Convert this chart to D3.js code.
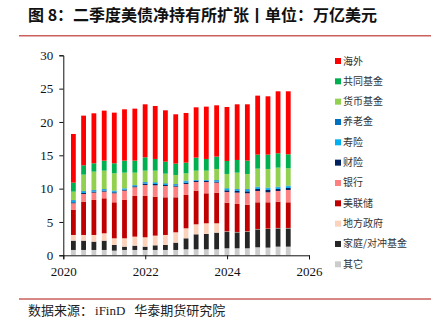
<!DOCTYPE html>
<html>
<head>
<meta charset="utf-8">
<script src="https://cdn.jsdelivr.net/npm/d3@7"></script>
<style>
  body { margin: 0; background: #fff; }
  svg { display: block; }
</style>
</head>
<body>
<script>
// quarters, bottom-to-top series (trillion USD)
const quarters = ["2020Q1","2020Q2","2020Q3","2020Q4","2021Q1","2021Q2","2021Q3","2021Q4",
  "2022Q1","2022Q2","2022Q3","2022Q4","2023Q1","2023Q2","2023Q3","2023Q4",
  "2024Q1","2024Q2","2024Q3","2024Q4","2025Q1","2025Q2"];

const other      = [0.8,0.8,0.8,0.8,0.7,0.8,0.8,0.8,0.8,0.8,0.8,0.9,0.9,0.9,0.9,1.05,1.05,1.05,1.2,1.15,1.3,1.3];
const household  = [1.4,1.4,1.25,1.4,0.85,0.5,0.65,0.5,0.7,0.75,1.1,1.65,2.25,2.3,2.5,2.5,2.4,2.5,2.7,2.8,2.75,2.75];
const localGov   = [0.85,0.85,1.0,1.1,1.0,1.25,1.35,1.4,1.45,1.5,1.55,1.5,1.5,1.6,1.4,0.05,0.05,0.05,0.05,0.05,0.05,0.05];
const fed        = [3.8,5.0,5.25,5.25,5.4,5.75,6.1,6.2,5.85,5.65,5.25,5.0,5.05,4.5,4.6,4.3,4.2,4.0,4.0,3.95,3.95,3.85];
const banks      = [0.95,1.15,1.1,1.0,1.35,1.4,1.3,1.65,1.7,1.7,1.6,1.65,1.3,1.7,1.5,1.6,1.7,1.7,1.7,1.5,1.6,1.85];
const pc         = [0.15,0.15,0.15,0.15,0.15,0.15,0.15,0.2,0.2,0.15,0.15,0.2,0.15,0.15,0.15,0.25,0.25,0.3,0.3,0.35,0.3,0.3];
const life       = [0.25,0.2,0.15,0.15,0.15,0.15,0.15,0.15,0.15,0.15,0.15,0.2,0.1,0.1,0.15,0.2,0.2,0.25,0.25,0.25,0.25,0.25];
const pension    = [0.1,0.1,0.1,0.1,0.1,0.05,0.05,0.1,0.1,0.1,0.1,0.1,0.05,0.05,0.1,0.1,0.1,0.1,0.1,0.1,0.1,0.1];
const mmf        = [1.25,2.45,2.75,2.75,2.6,2.35,1.85,1.7,1.75,1.45,1.35,1.1,1.4,1.4,1.65,2.15,2.45,2.25,2.7,2.8,2.85,2.6];
const mutual     = [1.35,1.4,1.25,1.5,1.5,1.8,1.8,2.0,1.75,1.8,1.7,1.6,1.95,1.75,1.85,1.95,1.9,2.0,2.1,2.15,2.15,2.1];
const foreign    = [7.3,7.45,7.5,7.5,7.6,7.7,7.8,7.95,7.95,7.7,7.4,7.45,7.55,7.85,7.7,8.1,8.35,8.45,8.85,8.75,9.3,9.45];

const seriesNames = ["其它","家庭/对冲基金","地方政府","美联储","银行","财险","寿险","养老金","货币基金","共同基金","海外"];
const seriesValues = [other, household, localGov, fed, banks, pc, life, pension, mmf, mutual, foreign];
const colors = ["#cccccc","#262626","#fbd3bd","#c00000","#ff8080","#002060","#00b0f0","#0070c0","#92d050","#00b050","#ff0000"];

const yTicks = [0,5,10,15,20,25,30];
const xTickYears = [2020,2022,2024,2026];

const W = 443, H = 331;
const svg = d3.select("body").append("svg").attr("width", W).attr("height", H);

const cjk = "'Noto Sans CJK SC', sans-serif";
const serif = "'Liberation Serif', 'Times New Roman', serif";

// title + red rules
svg.append("text")
  .attr("x", 28).attr("y", 21)
  .attr("font-family", cjk)
  .attr("font-weight", "bold").attr("font-size", 16)
  .attr("fill", "#111")
  .text("图 8：二季度美债净持有所扩张丨单位：万亿美元");

svg.append("line").attr("x1", 19).attr("x2", 431).attr("y1", 35.7).attr("y2", 35.7)
  .attr("stroke", "#c9605c").attr("stroke-width", 1.5);
svg.append("line").attr("x1", 19).attr("x2", 431).attr("y1", 299).attr("y2", 299)
  .attr("stroke", "#c9605c").attr("stroke-width", 1.5);

let src = svg.append("text")
  .attr("x", 28).attr("y", 314.5)
  .attr("font-family", cjk)
  .attr("font-size", 13).attr("fill", "#222");
src.append("tspan").text("数据来源：");
src.append("tspan").attr("font-family", serif).attr("dx", 2).text("iFinD");
src.append("tspan").attr("dx", 9).text("华泰期货研究院");

// scales
let x = d3.scaleTime()
  .domain([new Date(2020, 0, 1), new Date(2026, 0, 1)])
  .range([63.3, 309]);
let y = d3.scaleLinear().domain([0, 30]).range([255.3, 55.3]);

function qDate(q) {
  let yr = +q.slice(0, 4), n = +q.slice(5);
  return new Date(yr, n * 3, 0);
}

// build rows for the stack
let rows = quarters.map((q, i) => {
  let r = { date: qDate(q) };
  seriesNames.forEach((k, j) => r[k] = seriesValues[j][i]);
  return r;
});

let stacked = d3.stack().keys(seriesNames)(rows);
let barW = 4.8;

let g = svg.append("g");
g.selectAll("g.layer")
  .data(stacked)
  .enter().append("g")
  .attr("class", "layer")
  .attr("fill", (d, i) => colors[i])
  .selectAll("rect")
  .data(d => d)
  .enter().append("rect")
  .attr("x", d => x(d.data.date) - barW / 2)
  .attr("width", barW)
  .attr("y", d => y(d[1]))
  .attr("height", d => Math.max(0, y(d[0]) - y(d[1])));

// axes
let yAxis = svg.append("g")
  .attr("transform", "translate(63.3,0)")
  .call(d3.axisLeft(y).tickValues(yTicks).tickSize(4).tickPadding(6));
let xAxis = svg.append("g")
  .attr("transform", "translate(0,255.3)")
  .call(d3.axisBottom(x)
    .tickValues(xTickYears.map(v => new Date(v, 0, 1)))
    .tickFormat(d3.timeFormat("%Y"))
    .tickSize(4).tickPadding(7));

[yAxis, xAxis].forEach(a => {
  a.selectAll("text")
    .attr("font-family", serif)
    .attr("font-size", 13).attr("fill", "#111");
  a.selectAll("line,path").attr("stroke", "#111");
});

// legend, top item first
let legend = svg.append("g").attr("transform", "translate(335,0)");
let legendOrder = seriesNames.map((n, i) => i).reverse();
legendOrder.forEach((idx, k) => {
  let cy = 61 + k * 20.33;
  legend.append("rect")
    .attr("x", 0).attr("y", cy - 3).attr("width", 6).attr("height", 6)
    .attr("fill", colors[idx]);
  legend.append("text")
    .attr("x", 8).attr("y", cy + 3.5)
    .attr("font-family", cjk)
    .attr("font-size", 10).attr("fill", "#333")
    .text(seriesNames[idx]);
});
</script>
</body>
</html>
